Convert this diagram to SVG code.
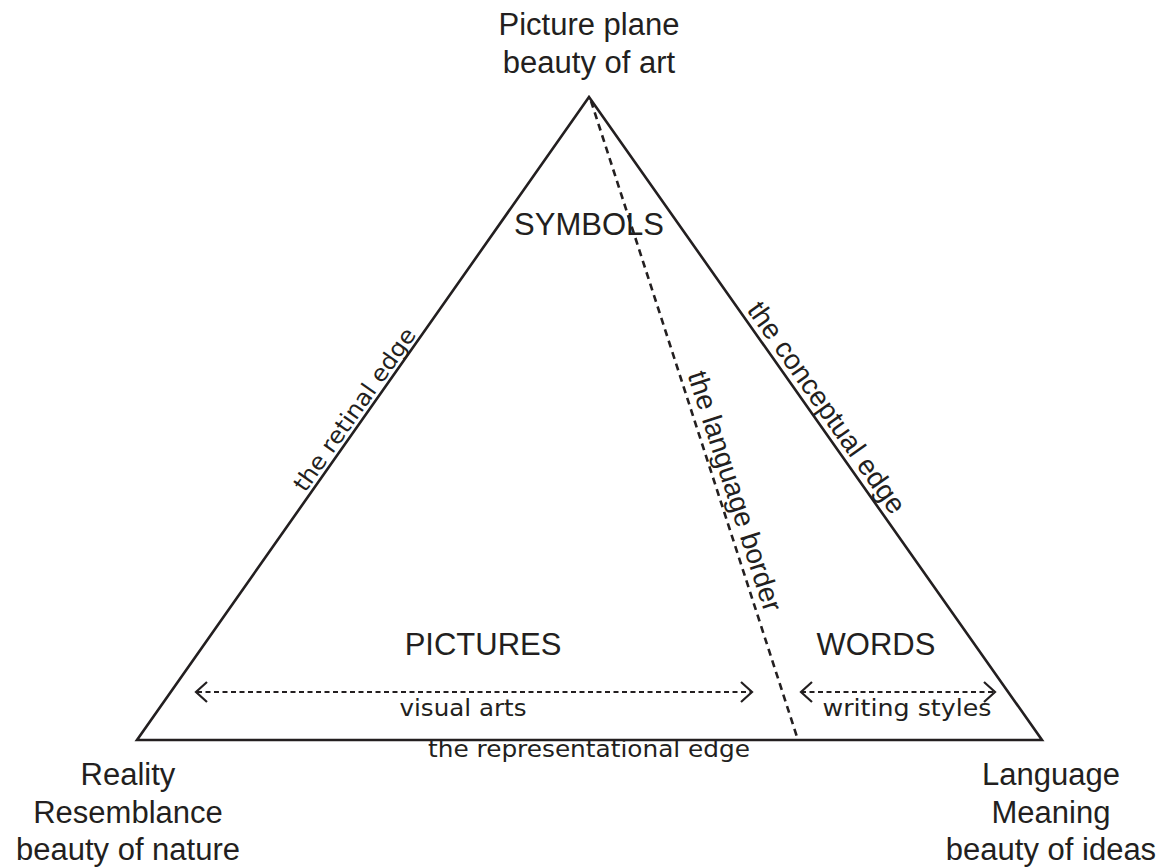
<svg xmlns="http://www.w3.org/2000/svg" width="1163" height="868" viewBox="0 0 1163 868">
<style>
.lbl{font-family:"Liberation Sans",Arial,sans-serif;font-size:31px;fill:#231f20;text-anchor:middle}
.edge{font-family:"Liberation Sans",Arial,sans-serif;font-size:28px;fill:#231f20;text-anchor:middle}
.hand{font-family:"DejaVu Sans",sans-serif;font-size:23px;fill:#231f20;text-anchor:middle}
.solid{fill:none;stroke:#231f20;stroke-width:2.6;stroke-linejoin:miter}
.dash{fill:none;stroke:#231f20;stroke-width:2.6;stroke-dasharray:7 5}
.arrow{fill:none;stroke:#231f20;stroke-width:2;stroke-dasharray:5 3.5}
.head{fill:none;stroke:#231f20;stroke-width:2.2;stroke-linejoin:miter}
</style>
<rect width="1163" height="868" fill="#ffffff"/>
<g id="triangle">
<polygon class="solid" points="589,97 137,740 1042,740"/>
</g>
<g id="connectors">
<line class="dash" x1="591" y1="101" x2="798" y2="740"/>
<line class="arrow" x1="197" y1="692" x2="752" y2="692"/>
<polyline class="head" points="207,682 196,692 207,702"/>
<polyline class="head" points="741,682 752,692 741,702"/>
<line class="arrow" x1="801" y1="692" x2="995" y2="692"/>
<polyline class="head" points="812,682 801,692 812,702"/>
<polyline class="head" points="984,682 995,692 984,702"/>
</g>
<g id="apex">
<text class="lbl" x="589" y="35">Picture plane</text>
<text class="lbl" x="589" y="73">beauty of art</text>
</g>
<g id="reality">
<text class="lbl" x="128" y="785">Reality</text>
<text class="lbl" x="128" y="823">Resemblance</text>
<text class="lbl" x="128" y="860">beauty of nature</text>
</g>
<g id="language">
<text class="lbl" x="1051" y="785">Language</text>
<text class="lbl" x="1051" y="823">Meaning</text>
<text class="lbl" x="1051" y="860">beauty of ideas</text>
</g>
<g id="symbols"><text class="lbl" x="589" y="235">SYMBOLS</text></g>
<g id="pictures"><text class="lbl" x="483" y="655">PICTURES</text></g>
<g id="words"><text class="lbl" x="876" y="655">WORDS</text></g>
<g id="edge-labels">
<text class="hand" transform="translate(361,414) rotate(-54.9)" textLength="194" lengthAdjust="spacingAndGlyphs">the retinal edge</text>
<text class="edge" transform="translate(819,413) rotate(54.8)">the conceptual edge</text>
<text class="edge" transform="translate(726,494) rotate(72.1)">the language border</text>
<text class="hand" x="589" y="757" textLength="322" lengthAdjust="spacingAndGlyphs">the representational edge</text>
<text class="hand" x="463" y="716" textLength="127" lengthAdjust="spacingAndGlyphs">visual arts</text>
<text class="hand" x="907" y="716" textLength="169" lengthAdjust="spacingAndGlyphs">writing styles</text>
</g>
</svg>
